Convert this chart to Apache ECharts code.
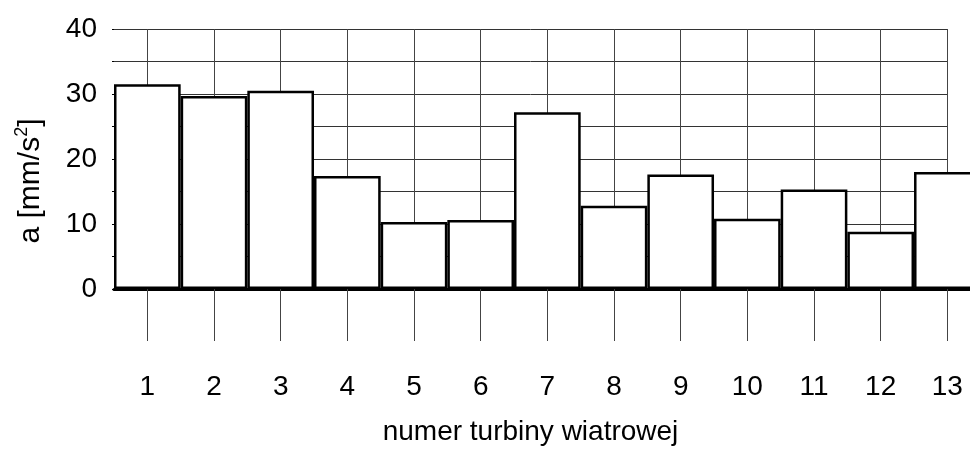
<!DOCTYPE html>
<html>
<head>
<meta charset="utf-8">
<script src="https://cdn.jsdelivr.net/npm/echarts@6/dist/echarts.min.js"></script>
<style>
html,body{margin:0;padding:0;background:#fff;overflow:hidden;width:970px;height:454px;}
#main{width:981px;height:454px;}
</style>
</head>
<body>
<div id="main"></div>
<script>
const categories = ['1','2','3','4','5','6','7','8','9','10','11','12','13'];
const values = [31.5, 29.7, 30.5, 17.4, 10.3, 10.6, 27.2, 12.8, 17.6, 10.8, 15.3, 8.8, 18.0];
const yTickLabels = ['0','10','20','30','40'];
const xTitle = 'numer turbiny wiatrowej';
const yTitle = 'a [mm/s';

const FONT = '"Liberation Sans", Arial, sans-serif';
const chart = echarts.init(document.getElementById('main'), null, {renderer: 'canvas'});

chart.setOption({
  animation: false,
  backgroundColor: '#ffffff',
  grid: [
    {left: 114, right: 0.3, top: 29, bottom: 165, containLabel: false},
    {left: 114, right: 34, top: 29, bottom: 165, containLabel: false}
  ],
  xAxis: [
    {
      type: 'category', gridIndex: 0, data: categories, boundaryGap: true,
      axisLine: {show: true, onZero: false, lineStyle: {color: '#000', width: 3}},
      axisTick: {show: true, alignWithLabel: true, interval: 0, length: 52, lineStyle: {color: '#444', width: 1}},
      axisLabel: {show: true, interval: 0, margin: 84, fontFamily: FONT, fontSize: 28, color: '#000'},
      splitLine: {show: true, alignWithLabel: true, interval: 0, lineStyle: {color: '#444', width: 1}}
    },
    {
      type: 'value', gridIndex: 1, min: 0, max: 1,
      axisLine: {show: false}, axisTick: {show: false}, axisLabel: {show: false}, splitLine: {show: false},
      name: xTitle, nameLocation: 'middle', nameGap: 129,
      nameTextStyle: {fontFamily: FONT, fontSize: 28, color: '#000'}
    }
  ],
  yAxis: [
    {
      type: 'value', gridIndex: 0, min: 0, max: 40, interval: 5,
      axisLine: {show: false}, axisTick: {show: false}, axisLabel: {show: false}, splitLine: {show: false}
    },
    {
      type: 'value', gridIndex: 1, min: 0, max: 40, interval: 5,
      axisLine: {show: false},
      axisTick: {show: true, length: 2, lineStyle: {color: '#000'}},
      axisLabel: {
        show: true, margin: 17, fontFamily: FONT, fontSize: 28, color: '#000',
        formatter: function (v) { const s = String(v); return yTickLabels.indexOf(s) >= 0 ? s : ''; }
      },
      splitLine: {show: true, lineStyle: {color: '#333', width: 1}}
    }
  ],
  series: [
    {
      type: 'bar', xAxisIndex: 0, yAxisIndex: 0, data: values,
      barCategoryGap: '0%', z: 3,
      itemStyle: {color: '#ffffff', borderColor: '#000', borderWidth: 2.5}
    }
  ],
  graphic: [
    {
      type: 'text', x: 31, y: 181, rotation: Math.PI / 2,
      style: {
        text: '{n|' + yTitle + '}{s|2}{n|]}',
        align: 'center', verticalAlign: 'middle',
        rich: {
          n: {fontFamily: FONT, fontSize: 30, fill: '#000', lineHeight: 36},
          s: {fontFamily: FONT, fontSize: 18, fill: '#000', lineHeight: 36, verticalAlign: 'top', padding: [0, 0, 6, 0]}
        }
      }
    }
  ]
});
</script>
</body>
</html>
